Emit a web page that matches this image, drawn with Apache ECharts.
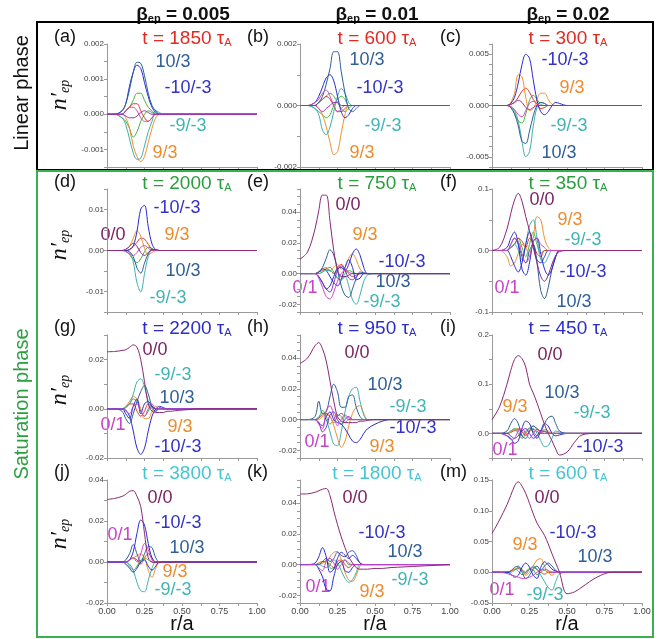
<!DOCTYPE html>
<html><head><meta charset="utf-8">
<script src="https://cdn.jsdelivr.net/npm/echarts@6/dist/echarts.min.js"></script>
<style>html,body{margin:0;padding:0;background:#fff}#c{width:667px;height:639px}</style>
</head><body><div id="c"></div>
<script>
// ---------- data ----------
const R = [0,0.05,0.1,0.125,0.15,0.175,0.2,0.225,0.25,0.275,0.3,0.325,0.35,0.375,0.4,0.425,0.45,0.5,0.55,0.6,0.7,0.8,1.0];
const xTickLabels = ['0.00','0.25','0.50','0.75','1.00'];
const times = ['1850','600','300','2000','750','350','2200','950','450','3800','1800','600'];
const letters = ['(a)','(b)','(c)','(d)','(e)','(f)','(g)','(h)','(i)','(j)','(k)','(m)'];
const betas = ['0.005','0.01','0.02'];

// (a)
const A_103  = [0,0,0.0001,0.0003,0.0007,0.0012,0.00148,0.00145,0.0011,0.0006,0.00025,0.0001, 0,0,0,0,0,0, 0,0,0,0,0];
const A_m103 = [0,0,0.0001,0.0003,0.0008,0.0012,0.0014,0.0013,0.0009,0.0005,0.0002,0.00005, 0,0,0,0,0,0, 0,0,0,0,0];
const A_m93  = [0,0,-0.0001,-0.0003,-0.0007,-0.0011,-0.00128,-0.00125,-0.0009,-0.0005,-0.0002,0.0001, 0.00005,0,0,0,0,0, 0,0,0,0,0];
const A_93   = [0,0,0,-0.0001,-0.0004,-0.0009,-0.0012,-0.00135,-0.0012,-0.0008,-0.0004,-0.0001, 0,0,0,0,0,0, 0,0,0,0,0];
const A_g1   = [0,0,0,0.0001,0.0002,0.0004,0.0006,0.0006,0.0004,0.0002,0.0001,0, 0,0,0,0,0,0, 0,0,0,0,0];
const A_g2   = [0,0,-0.0001,-0.0002,-0.0004,-0.00065,-0.0005,-0.0002,0,0.0001,0.00005,0, 0,0,0,0,0,0, 0,0,0,0,0];
const A_red  = [0,0,0,0.0001,0.0002,0.0003,0.0003,0.0001,-0.0001,-0.0002,-0.0001,0, 0,0,0,0,0,0, 0,0,0,0,0];
const A_mag  = [0,0,0,0.0001,0.0002,0.0002,0.0001,-0.0001,-0.0002,-0.0002,-0.0001,0, 0,0,0,0,0,0, 0,0,0,0,0];
const A_pur  = [0,0,0,-0.00005,-0.0001,-0.0001,-0.00005,0.00005,0.0001,0.00005,0,0, 0,0,0,0,0,0, 0,0,0,0,0];
// (b)
const B_103  = [0,0,0,0.0001,0.0003,0.0007,0.0012,0.00175,0.00175,0.0011,0.0004,-0.0001, -0.0002,-0.0001,0,0,0,0, 0,0,0,0,0];
const B_m103 = [0,0,0.0001,0.0003,0.0006,0.0009,0.001,0.0008,0.0003,-0.0002,-0.0004,-0.0003, -0.0001,0,0,0,0,0, 0,0,0,0,0];
const B_m93  = [0,0,-0.0001,-0.0003,-0.0008,-0.00095,-0.0007,-0.0002,0.0003,0.00055,0.0004,0.0001, 0,0,0,0,0,0, 0,0,0,0,0];
const B_93   = [0,0,0,-0.0001,-0.0003,-0.0007,-0.0012,-0.0016,-0.0015,-0.0009,-0.0003,0, 0,0,0,0,0,0, 0,0,0,0,0];
const B_g1   = [0,0,0,0.0001,0.0002,0.0003,0.0004,0.0003,0.0001,-0.0001,-0.0002,-0.0001, 0,0,0,0,0,0, 0,0,0,0,0];
const B_g2   = [0,0,-0.0001,-0.0002,-0.0003,-0.0004,-0.0003,0,0.0002,0.0003,0.0002,0, 0,0,0,0,0,0, 0,0,0,0,0];
const B_red  = [0,0,0,0.0001,0.0002,0.0003,0.0002,0,-0.0002,-0.0002,-0.0001,0, 0,0,0,0,0,0, 0,0,0,0,0];
const B_mag  = [0,0,0.0001,0.0002,0.0004,0.0005,0.0003,0,-0.0002,-0.0001,0,0, 0,0,0,0,0,0, 0,0,0,0,0];
const B_pur  = [0,0,0,-0.0001,-0.0002,-0.0001,0,0.0001,0.0001,0,0,0, 0,0,0,0,0,0, 0,0,0,0,0];
// (c)
const C_m103 = [0,0,0,0.0002,0.0008,0.0022,0.004,0.005,0.0046,0.0025,0.0005,-0.0006, -0.0009,-0.0006,0,0.0003,0.0002,0, 0,0,0,0,0];
const C_103  = [0,0,0,-0.0002,-0.0008,-0.002,-0.0035,-0.0037,-0.0025,-0.001,0,0.0003, 0.0002,0,0,0,0,0, 0,0,0,0,0];
const C_m93  = [0,0,0,-0.0001,-0.0005,-0.0015,-0.0035,-0.005,-0.0045,-0.002,-0.0002,0.0003, 0.0002,0,0,0,0,0, 0,0,0,0,0];
const C_93   = [0,0,0,0.0003,0.0012,0.003,0.0028,0.0008,-0.0005,-0.0003,0.0006,0.0012, 0.0012,0.0006,0.0001,0,0,0, 0,0,0,0,0];
const C_red  = [0,0,0,0.0001,0.0003,0.0008,0.0014,0.0017,0.0013,0.0006,0.0001,-0.0003, -0.0002,0,0,0,0,0, 0,0,0,0,0];
const C_g    = [0,0,0,-0.0002,-0.0008,-0.0015,-0.0017,-0.0008,0.0005,0.001,0.0006,0.0001, 0,0,0,0,0,0, 0,0,0,0,0];
const C_mag  = [0,0,0,-0.0001,-0.0004,-0.0009,-0.0011,-0.0005,0.0002,0.0004,0.0002,0, 0,0,0,0,0,0, 0,0,0,0,0];
const C_pur  = [0,0,0,0.0001,0.0003,0.0005,0.0003,-0.0002,-0.0004,-0.0002,0,0, 0,0,0,0,0,0, 0,0,0,0,0];
// (d)
const D_m103 = [0,0,0,0,0.0002,0.0011,0.0047,0.0101,0.011,0.0058,0.0016,0.0002, 0,0,0,0,0,0, 0,0,0,0,0];
const D_103  = [0,0,0,0,-0.0003,-0.0015,-0.0043,-0.0055,-0.0031,-0.0008,0.0002,0.0002, 0,0,0,0,0,0, 0,0,0,0,0];
const D_m93  = [0,0,0,0,-0.0005,-0.0028,-0.0079,-0.0101,-0.0057,-0.0015,0,0, 0,0,0,0,0,0, 0,0,0,0,0];
const D_93   = [0,0,0,0.0003,0.001,0.003,0.0048,0.0035,0.0005,-0.001,-0.0005,0, 0,0,0,0,0,0, 0,0,0,0,0];
const D_red  = [0,0,0,0,0.0003,0.001,0.002,0.003,0.0028,0.0015,0.0003,0, 0,0,0,0,0,0, 0,0,0,0,0];
const D_g    = [0,0,0,-0.0002,-0.001,-0.0022,-0.003,-0.002,-0.0003,0.0008,0.0005,0, 0,0,0,0,0,0, 0,0,0,0,0];
const D_00   = [0,0,0,0.0003,0.001,0.0018,0.001,-0.0005,-0.0012,-0.0005,0.0003,0.0002, 0,0,0,0,0,0, 0,0,0,0,0];
const D_mag  = [0,0,0,-0.0002,-0.0008,-0.0012,-0.0005,0.0008,0.0012,0.0006,0,0, 0,0,0,0,0,0, 0,0,0,0,0];
// (e)
const E_00   = [0.0094,0.014,0.029,0.041,0.051,0.051,0.034,0.015,0.003,-0.002,-0.002,-0.001, 0,0,0,0,0,0, 0,0,0,0,0];
const E_103  = [0,0,0,0.001,0.004,0.01,0.0155,0.012,0.002,-0.008,-0.014,-0.0155, -0.01,-0.003,0.001,0.0005,0,0, 0,0,0,0,0];
const E_m103 = [0,0,0,-0.002,-0.006,-0.01,-0.008,-0.002,0.003,0.004,0.002,0.006, 0.013,0.016,0.012,0.004,0,0, 0,0,0,0,0];
const E_m93  = [0,0,0,0,0.001,0.002,0.002,0,-0.003,-0.004,-0.002,-0.008, -0.017,-0.02,-0.014,-0.005,-0.001,0, 0,0,0,0,0];
const E_93   = [0,0,0,0.001,0.003,0.004,0.002,0.004,0.006,0.003,0.004,0.01, 0.013,0.009,0.003,0.0005,0,0, 0,0,0,0,0];
const E_01   = [0,0,0,-0.003,-0.009,-0.015,-0.0165,-0.012,-0.005,0,0.002,0.001, 0,0,0,0,0,0, 0,0,0,0,0];
const E_vio  = [0,0,0,-0.002,-0.006,-0.01,-0.012,-0.006,0.002,0.005,0.002,-0.003, -0.004,-0.002,0,0,0,0, 0,0,0,0,0];
const E_red  = [0,0,0,0.001,0.002,0.003,0.002,0,0.004,0.006,0.003,0, -0.002,-0.001,0,0,0,0, 0,0,0,0,0];
const E_g    = [0,0,0,0,0.001,0.003,0.004,0.001,-0.003,-0.004,0,0.002, 0.001,0,0,0,0,0, 0,0,0,0,0];
const E_b3   = [0,0,0,0.001,0.003,0.002,-0.002,-0.006,-0.008,-0.004,0.004,0.009, 0.004,-0.004,-0.003,0,0,0, 0,0,0,0,0];
// (f)
const F_00   = [0,0.005,0.035,0.06,0.082,0.093,0.08,0.055,0.032,0.005,-0.02,-0.042, -0.05,-0.04,-0.022,-0.008,-0.002,0, 0,0,0,0,0];
const F_93   = [0,0,-0.01,-0.025,-0.02,-0.005,0.01,0.005,-0.01,0.02,0.055,0.05, 0.02,0.005,0,0,0,0, 0,0,0,0,0];
const F_m93  = [0,0,0,0.005,0.01,0,-0.015,0.01,0.04,0.05,0.02,-0.015, -0.02,-0.01,0,0,0,0, 0,0,0,0,0];
const F_103  = [0,0,0,0.01,0.02,0.01,-0.01,-0.02,0,0.01,-0.02,-0.065, -0.078,-0.06,-0.03,-0.01,0,0, 0,0,0,0,0];
const F_m103 = [0,0,0.005,0.02,0.03,0.01,-0.03,-0.04,-0.02,0.015,0.02,-0.005, -0.03,-0.04,-0.03,-0.01,0,0, 0,0,0,0,0];
const F_mag  = [0,0,0,0.01,0.02,0.015,-0.005,-0.02,-0.01,0.015,0.02,0.01, 0.005,0,0,0,0,0, 0,0,0,0,0];
const F_b3   = [0,0,0,-0.01,-0.025,-0.035,-0.02,0.01,0.03,0.01,-0.015,-0.02, -0.01,0,0,0,0,0, 0,0,0,0,0];
const F_g    = [0,0,0,0.005,0.01,0.02,0.005,-0.01,0.01,0.03,0.01,-0.005, 0,0,0,0,0,0, 0,0,0,0,0];
const F_red  = [0,0,0,0.005,0.01,0.02,0.015,0.005,0.02,0.01,-0.005,-0.01, 0,0,0,0,0,0, 0,0,0,0,0];
// (g)
const G_00   = [0.0232,0.0233,0.0237,0.024,0.025,0.026,0.025,0.02,0.011,0.002,-0.001,-0.0015, -0.0015,-0.0015,-0.001,-0.001,-0.0008,-0.0005, -0.0003,0,0,0,0];
const G_m93  = [0,0,0,0.0005,0.002,0.006,0.011,0.0122,0.009,0.003,0,-0.001, 0,0,0,0,0,0, 0,0,0,0,0];
const G_103  = [0,0,-0.001,-0.004,-0.006,-0.002,0.003,0.007,0.0095,0.006,0.001,-0.001, 0.0005,0,0,0,0,0, 0,0,0,0,0];
const G_m103 = [0,0,0,-0.0005,-0.003,-0.009,-0.016,-0.0185,-0.016,-0.009,-0.003,0, 0.001,0.0005,0,0,0,0, 0,0,0,0,0];
const G_93   = [0,0,0,0.001,0.003,0.005,0.004,0,-0.004,-0.004,-0.001,0.001, 0,0,0,0,0,0, 0,0,0,0,0];
const G_g    = [0,0,0,0.001,0.002,0.004,0.003,-0.001,-0.003,-0.001,0.001,0, 0,0,0,0,0,0, 0,0,0,0,0];
const G_red  = [0,0,0,0.0005,0.002,0.002,-0.001,-0.003,-0.001,0.002,0.001,0, 0,0,0,0,0,0, 0,0,0,0,0];
const G_mag  = [0,0,0,-0.001,-0.002,0.001,0.002,-0.001,-0.003,0,0.002,0, 0,0,0,0,0,0, 0,0,0,0,0];
const G_b3   = [0,0,0,-0.002,-0.004,0.001,0.004,-0.002,0.002,0.003,0.001,0, 0,0,0,0,0,0, 0,0,0,0,0];
// (h)
const H_00   = [0.0365,0.04,0.048,0.05,0.046,0.038,0.025,0.012,0.002,-0.001,-0.002,-0.002, -0.002,-0.002,-0.001,-0.001,-0.0005,0, 0,0,0,0,0];
const H_103  = [0,0,0.002,0.012,0.004,0.005,0.015,0.023,0.018,0.008,0.008,0.015, 0.016,0.008,0.002,0,0,0, 0,0,0,0,0];
const H_m93  = [0,0,0,0.002,0.004,0,-0.008,-0.016,-0.017,-0.008,0.005,0.015, 0.02,0.021,0.012,0.003,0,0, 0,0,0,0,0];
const H_93   = [0,0,0,0,0.002,0.003,0.002,-0.004,-0.012,-0.018,-0.014,-0.004, 0.004,0.008,0.009,0.004,0,0, 0,0,0,0,0];
const H_m103 = [0,0,0,-0.002,-0.004,0.002,0.005,0,-0.002,-0.003,-0.006,-0.01, -0.014,-0.015,-0.013,-0.009,-0.006,-0.003, -0.001,0,0,0,0];
const H_01   = [0,0,0,-0.003,-0.006,0.006,0.009,0.003,-0.004,0,0.003,0.001, 0,0,0,0,0,0, 0,0,0,0,0];
const H_vio  = [0,0,0,-0.002,-0.008,-0.005,0.003,0.005,0,-0.003,0,0.002, 0,0,0,0,0,0, 0,0,0,0,0];
const H_red  = [0,0,0,0.001,0.003,0.004,0.002,-0.002,0.002,0.004,0.002,0, 0,0,0,0,0,0, 0,0,0,0,0];
const H_g    = [0,0,0,0.001,0.006,0.002,-0.003,0,0.003,0.002,-0.002,0, 0,0,0,0,0,0, 0,0,0,0,0];
// (i)
const I_00   = [0.028,0.054,0.1,0.128,0.15,0.158,0.152,0.135,0.1,0.082,0.062,0.04, 0.018,0,-0.015,-0.032,-0.044,-0.038, -0.018,-0.003,0,0,0];
const I_103  = [0,0,0.005,0.02,0.03,0.02,-0.005,-0.01,0.005,0.015,0.01,0.005, 0.02,0.032,0.035,0.02,0.005,0, 0,0,0,0,0];
const I_m93  = [0,0,0,0.005,0.01,0.005,-0.005,0.005,0.01,0.01,0,-0.015, -0.027,-0.025,-0.01,0.005,0.003,0, 0,0,0,0,0];
const I_93   = [0,0,0,0.003,0.008,0.01,0.005,0,0.012,0.015,0.008,0.003, 0.008,0.005,0,0,0,0, 0,0,0,0,0];
const I_m103 = [0,0,-0.005,-0.01,-0.02,-0.015,0.01,0.025,0.02,0,-0.01,0.005, 0.02,0.015,0,-0.005,-0.003,0, 0,0,0,0,0];
const I_01   = [0,0,-0.005,-0.012,-0.01,0.005,0.01,0,-0.01,0,0.008,0.003, 0,0,0,0,0,0, 0,0,0,0,0];
const I_g    = [0,0,0,0.005,0.008,0,-0.01,0,0.01,0.005,-0.005,0, 0.005,0.002,0,0,0,0, 0,0,0,0,0];
const I_red  = [0,0,0,0.002,0.006,0.008,0.003,-0.004,0.004,0.008,0.004,0, 0,0,0,0,0,0, 0,0,0,0,0];
const I_vio  = [0,0,0,-0.005,-0.01,-0.005,0.005,0.01,0,-0.01,-0.005,0.005, 0.004,0,0,0,0,0, 0,0,0,0,0];
// (j)
const J_00   = [0.0305,0.031,0.032,0.033,0.0345,0.0348,0.032,0.027,0.014,0.002,0,-0.0003, -0.0003,0,0,0,0,0, 0,0,0,0,0];
const J_m103 = [0,0,0,0,0.001,0.005,0.014,0.0205,0.018,0.009,0.002,0, 0,0,0,0,0,0, 0,0,0,0,0];
const J_m93  = [0,0,0,0,-0.001,-0.004,-0.01,-0.014,-0.0145,-0.009,-0.003,0, 0,0,0,0,0,0, 0,0,0,0,0];
const J_103  = [0,0,0,0.001,0.004,0.0085,0.004,0,0.004,0.0075,0.007,0.002, 0,0,0,0,0,0, 0,0,0,0,0];
const J_01   = [0,0,0,0,0.001,0.002,0,0.004,0.009,0.006,0.001,0, 0,0,0,0,0,0, 0,0,0,0,0];
const J_93   = [0,0,0,0,0.001,0.002,0.003,0.004,0.002,-0.004,-0.0075,-0.003, 0,0,0,0,0,0, 0,0,0,0,0];
const J_b2   = [0,0,0,-0.001,-0.003,-0.005,-0.003,0,0.001,-0.002,-0.004,-0.002, 0,0,0,0,0,0, 0,0,0,0,0];
const J_g    = [0,0,0,0,-0.002,-0.004,-0.002,0.001,0.002,0.001,0,0, 0,0,0,0,0,0, 0,0,0,0,0];
const J_red  = [0,0,0,0,0.001,0.002,0.001,-0.001,0.002,0.004,0.002,0, 0,0,0,0,0,0, 0,0,0,0,0];
// (k)
const K_00   = [0.0459,0.046,0.047,0.048,0.049,0.0495,0.0448,0.035,0.026,0.018,0.011,0.005, 0.001,-0.002,-0.003,-0.003,-0.003,-0.0025, -0.0025,-0.002,-0.0015,-0.001,0];
const K_m103 = [0,0,0.001,0.005,0.011,0.005,-0.005,-0.003,0.004,0.008,0.006,0.004, 0.006,0.004,0.001,0,0,0, 0,0,0,0,0];
const K_b2   = [0,0,0,-0.003,-0.008,-0.016,-0.017,-0.008,0,0.002,-0.004,-0.005, -0.002,0,0,0,0,0, 0,0,0,0,0];
const K_103  = [0,0,0,0,0.002,0.004,0.002,0.004,0.008,0.006,0.005,0.008, 0.009,0.006,0.001,0,0,0, 0,0,0,0,0];
const K_93   = [0,0,0,0,0.001,0.002,0.005,0.008,0.0085,0.003,-0.005,-0.01, -0.011,-0.007,-0.001,0,0,0, 0,0,0,0,0];
const K_m93  = [0,0,0,0,-0.001,-0.002,0,0.003,0.001,-0.004,-0.009,-0.0115, -0.01,-0.005,0,0,0,0, 0,0,0,0,0];
const K_01   = [0,0,0,-0.002,-0.004,0.002,0.004,0.001,-0.003,0,0.003,0.001, 0,0,0,0,0,0, 0,0,0,0,0];
const K_red  = [0,0,0,0.001,0.002,0.002,0,-0.002,0.002,0.003,0,-0.002, 0,0,0,0,0,0, 0,0,0,0,0];
const K_g    = [0,0,0,0,0.001,0.003,-0.002,-0.003,0,0.002,0.003,0, 0,0,0,0,0,0, 0,0,0,0,0];
// (m)
const M_00   = [0.063,0.085,0.11,0.125,0.14,0.147,0.14,0.128,0.112,0.095,0.08,0.07, 0.06,0.046,0.03,0.015,0,-0.035, -0.032,-0.024,-0.008,0,0];
const M_93   = [0,0,0,0.002,0.005,0.008,0.003,-0.005,0,0.01,0.02,0.022, 0.01,0,-0.005,0,0,0, 0,0,0,0,0];
const M_m93  = [0,0,0,0,0.003,0.008,0.005,-0.003,0.005,0.01,0.005,-0.005, -0.015,-0.025,-0.029,-0.015,-0.003,0, 0,0,0,0,0];
const M_103  = [0,0,0,0.002,0.008,0.01,0,-0.01,-0.005,0.005,0.01,0.003, 0.01,0.015,0.01,0.003,0,0, 0,0,0,0,0];
const M_m103 = [0,0,0,-0.003,-0.008,-0.005,0.008,0.015,0.008,-0.005,-0.01,0.008, 0.017,0.012,0.005,0.002,0,0, 0,0,0,0,0];
const M_01   = [0,0,-0.002,-0.004,-0.006,-0.008,-0.01,-0.01,-0.008,-0.005,0,0.003, 0.005,0.003,0,0,0,0, 0,0,0,0,0];
const M_red  = [0,0,0,0.002,0.004,0.006,0.003,0,0.005,0.008,0.004,0, -0.003,0,0,0,0,0, 0,0,0,0,0];
const M_g    = [0,0,0,0.002,0.005,0.002,-0.004,0,0.006,0.004,-0.004,0, 0.003,0,0,0,0,0, 0,0,0,0,0];

// ---------- styling / layout ----------
const LC = {c103:'#2c5d9a', cm103:'#2a2ad2', cm93:'#3fb0ae', c93:'#f0922e', c00:'#8a2878', c01:'#c846c8',
            green:'#43b53a', red:'#e2342e', vio:'#7030c0', pur:'#9a30b0', mag:'#d246b4'};
const TC = {t103:'#2f5f98', tm103:'#3232c8', tm93:'#40b4b4', t93:'#ec8c2c', t00:'#7a2466', t01:'#c544c8'};
const rowColors = ['#e02a22','#2a9d3e','#2c2cc8','#45c4d2'];
const FF = '"Liberation Sans", Arial, sans-serif';

const curves = [
  [[A_g2,'green'],[A_g1,'green'],[A_red,'red'],[A_93,'c93'],[A_m93,'cm93'],[A_m103,'cm103'],[A_103,'c103'],[A_mag,'mag'],[A_pur,'pur']],
  [[B_g2,'green'],[B_g1,'green'],[B_red,'red'],[B_93,'c93'],[B_m93,'cm93'],[B_m103,'cm103'],[B_103,'c103'],[B_mag,'mag'],[B_pur,'pur']],
  [[C_g,'green'],[C_red,'red'],[C_93,'c93'],[C_m93,'cm93'],[C_103,'c103'],[C_m103,'cm103'],[C_mag,'mag'],[C_pur,'pur']],
  [[D_g,'green'],[D_red,'red'],[D_93,'c93'],[D_m93,'cm93'],[D_103,'c103'],[D_m103,'cm103'],[D_mag,'mag'],[D_00,'c00']],
  [[E_g,'green'],[E_red,'red'],[E_93,'c93'],[E_b3,'cm103'],[E_m93,'cm93'],[E_103,'c103'],[E_m103,'cm103'],[E_vio,'vio'],[E_01,'c01'],[E_00,'c00']],
  [[F_g,'green'],[F_red,'red'],[F_93,'c93'],[F_m93,'cm93'],[F_b3,'cm103'],[F_103,'c103'],[F_m103,'cm103'],[F_mag,'c01'],[F_00,'c00']],
  [[G_g,'green'],[G_red,'red'],[G_93,'c93'],[G_b3,'cm103'],[G_m93,'cm93'],[G_103,'c103'],[G_m103,'cm103'],[G_mag,'c01'],[G_00,'c00']],
  [[H_g,'green'],[H_red,'red'],[H_93,'c93'],[H_m93,'cm93'],[H_103,'c103'],[H_m103,'cm103'],[H_vio,'vio'],[H_01,'c01'],[H_00,'c00']],
  [[I_g,'green'],[I_red,'red'],[I_93,'c93'],[I_m93,'cm93'],[I_103,'c103'],[I_m103,'cm103'],[I_vio,'vio'],[I_01,'c01'],[I_00,'c00']],
  [[J_g,'green'],[J_red,'red'],[J_93,'c93'],[J_m93,'cm93'],[J_b2,'cm103'],[J_103,'c103'],[J_m103,'cm103'],[J_01,'c01'],[J_00,'c00']],
  [[K_g,'green'],[K_red,'red'],[K_93,'c93'],[K_m93,'cm93'],[K_b2,'cm103'],[K_103,'c103'],[K_m103,'cm103'],[K_01,'c01'],[K_00,'c00']],
  [[M_g,'green'],[M_red,'red'],[M_93,'c93'],[M_m93,'cm93'],[M_103,'c103'],[M_m103,'cm103'],[M_01,'c01'],[M_00,'c00']]
];

// y-axis specs: [min, max, tick interval, label step, decimals]
const yAxisSpec = [
  [-0.0015,0.002,0.0005,0.001,3],[-0.002,0.002,0.001,0.002,3],[-0.006,0.006,0.001,0.005,3],
  [-0.015,0.015,0.005,0.01,2],[-0.025,0.055,0.005,0.02,2],[-0.1,0.1,0.05,0.1,1],
  [-0.02,0.03,0.01,0.02,2],[-0.025,0.055,0.005,0.02,2],[-0.05,0.2,0.05,0.1,1],
  [-0.02,0.04,0.01,0.02,2],[-0.025,0.055,0.005,0.02,2],[-0.05,0.15,0.05,0.05,2]
];

const curveLabels = [
  [['10/3','t103',173,62],['-10/-3','tm103',188,88],['-9/-3','tm93',188,126],['9/3','t93',165,153]],
  [['10/3','t103',367,60],['-10/-3','tm103',380,88],['-9/-3','tm93',383,126],['9/3','t93',362,153]],
  [['-10/-3','tm103',565,60],['9/3','t93',572,88],['-9/-3','tm93',569,126],['10/3','t103',559,153]],
  [['-10/-3','tm103',177,208],['0/0','t00',113,235],['9/3','t93',177,235],['10/3','t103',183,271],['-9/-3','tm93',168,298]],
  [['0/0','t00',348,205],['9/3','t93',365,235],['-10/-3','tm103',402,262],['10/3','t103',393,282],['-9/-3','tm93',382,302],['0/1','t01',305,288]],
  [['0/0','t00',542,200],['9/3','t93',570,220],['-9/-3','tm93',583,240],['-10/-3','tm103',583,272],['0/1','t01',507,288],['10/3','t103',574,302]],
  [['0/0','t00',155,350],['-9/-3','tm93',173,375],['10/3','t103',177,398],['0/1','t01',113,425],['9/3','t93',180,427],['-10/-3','tm103',178,447]],
  [['0/0','t00',357,353],['10/3','t103',385,385],['-9/-3','tm93',408,407],['-10/-3','tm103',413,428],['9/3','t93',382,447],['0/1','t01',317,442]],
  [['0/0','t00',550,355],['10/3','t103',562,393],['9/3','t93',515,407],['-9/-3','tm93',592,413],['-10/-3','tm103',600,447],['0/1','t01',505,450]],
  [['0/0','t00',160,498],['-10/-3','tm103',178,523],['0/1','t01',120,535],['10/3','t103',187,548],['9/3','t93',175,572],['-9/-3','tm93',173,590]],
  [['0/0','t00',355,498],['-10/-3','tm103',382,533],['10/3','t103',405,552],['-9/-3','tm93',410,580],['0/1','t01',318,587],['9/3','t93',372,592]],
  [['0/0','t00',547,498],['-10/-3','tm103',573,533],['9/3','t93',525,545],['10/3','t103',595,557],['0/1','t01',502,590],['-9/-3','tm93',545,595]]
];

const colLeft = [107,300,492], rowTop = [44,189,335,480], PW = 150, PH = 123;
const titleX = [187,377,568], titleY = [37,182,327,472], letterX = [54,247,440];

function fmtY(step, dec){
  return function(v){
    const k = v/step;
    if (Math.abs(k-Math.round(k)) > 1e-6) return '';
    if (Math.abs(v) < 1e-12) v = 0;
    return v.toFixed(dec);
  };
}
function fmtX(v){
  const k = v/0.25;
  if (Math.abs(k-Math.round(k)) > 1e-6) return '';
  return xTickLabels[Math.round(k)];
}

const grid = [], xAxis = [], yAxis = [], series = [], graphic = [];
const axisCol = '#9a9a9a';
for (let p=0; p<12; p++){
  const row = Math.floor(p/3), col = p%3;
  grid.push({left:colLeft[col], top:rowTop[row], width:PW, height:PH, containLabel:false, outerBoundsMode:'none'});
  xAxis.push({gridIndex:p, type:'value', min:0, max:1, interval:0.125,
    axisLine:{show:true, onZero:false, lineStyle:{color:axisCol, width:1}},
    axisTick:{show:true, length:3, inside:false, lineStyle:{color:axisCol}},
    axisLabel:{show: row===3, formatter: fmtX, fontSize:9, color:'#444', fontFamily:FF, margin:4, showMinLabel:true, showMaxLabel:true},
    splitLine:{show:false}});
  const s = yAxisSpec[p];
  yAxis.push({gridIndex:p, type:'value', min:s[0], max:s[1], interval:s[2],
    axisLine:{show:true, onZero:false, lineStyle:{color:axisCol, width:1}},
    axisTick:{show:true, length:3, lineStyle:{color:axisCol}},
    axisLabel:{formatter: fmtY(s[3], s[4]), fontSize:8, color:'#444', fontFamily:FF, margin:3, showMinLabel:true, showMaxLabel:true},
    splitLine:{show:false}});
  curves[p].forEach(function(c, j){
    series.push({type:'line', xAxisIndex:p, yAxisIndex:p, smooth:0.35, symbol:'none', silent:true,
      lineStyle:{width:1, color:LC[c[1]]}, z:2+j,
      data: R.map(function(r,i){ return [r, c[0][i]]; })});
  });
  // title
  graphic.push({type:'text', x:titleX[col], y:titleY[row], silent:true,
    style:{text:'{t|t = '+times[p]+' τ}{s|A}', align:'center', verticalAlign:'middle', textAlign:'center', textVerticalAlign:'middle',
      rich:{t:{fontSize:19, fontFamily:FF, fill:rowColors[row], verticalAlign:'bottom', lineHeight:22},
            s:{fontSize:11, fontFamily:FF, fill:rowColors[row], verticalAlign:'bottom', lineHeight:18}}}});
  graphic.push({type:'text', x:letterX[col], y:titleY[row], silent:true,
    style:{text:letters[p], font:'18px '+FF, fill:'#111', align:'left', verticalAlign:'middle', textAlign:'left', textVerticalAlign:'middle'}});
  curveLabels[p].forEach(function(L){
    graphic.push({type:'text', x:L[2], y:L[3], silent:true,
      style:{text:L[0], font:'18px '+FF, fill:TC[L[1]], align:'center', verticalAlign:'middle', textAlign:'center', textVerticalAlign:'middle'}});
  });
}
// column headers
const headerX = [183,377,568];
betas.forEach(function(b, c){
  graphic.push({type:'text', x:headerX[c], y:13, silent:true,
    style:{text:'{b|β}{s|ep}{b| = '+b+'}', align:'center', verticalAlign:'middle', textAlign:'center', textVerticalAlign:'middle',
      rich:{b:{fontSize:19, fontWeight:'bold', fontFamily:FF, fill:'#111', verticalAlign:'bottom', lineHeight:22},
            s:{fontSize:11, fontWeight:'bold', fontFamily:FF, fill:'#111', verticalAlign:'bottom', lineHeight:17}}}});
});
// y-axis names
const yNameY = [95,245,390,534];
yNameY.forEach(function(yy){
  graphic.push({type:'text', x:59, y:yy, rotation:Math.PI/2, silent:true,
    style:{text:'{n|n′}{s|ep}', align:'center', verticalAlign:'middle', textAlign:'center', textVerticalAlign:'middle',
      rich:{n:{fontSize:24, fontStyle:'italic', fontFamily:'"Liberation Serif", "DejaVu Serif", serif', fill:'#111', verticalAlign:'bottom', lineHeight:26},
            s:{fontSize:14, fontStyle:'italic', fontFamily:'"Liberation Serif", "DejaVu Serif", serif', fill:'#111', verticalAlign:'bottom', lineHeight:20}}}});
});
// x-axis names
for (let c=0;c<3;c++){
  graphic.push({type:'text', x:colLeft[c]+PW/2, y:624, silent:true,
    style:{text:'r/a', font:'20px '+FF, fill:'#111', align:'center', verticalAlign:'middle', textAlign:'center', textVerticalAlign:'middle'}});
}
// phase labels
graphic.push({type:'text', x:22, y:93, rotation:Math.PI/2, silent:true,
  style:{text:'Linear phase', font:'20px '+FF, fill:'#111', align:'center', verticalAlign:'middle', textAlign:'center', textVerticalAlign:'middle'}});
graphic.push({type:'text', x:22, y:404, rotation:Math.PI/2, silent:true,
  style:{text:'Saturation phase', font:'20px '+FF, fill:'#2aa040', align:'center', verticalAlign:'middle', textAlign:'center', textVerticalAlign:'middle'}});
// boxes
graphic.push({type:'rect', silent:true, shape:{x:37, y:22, width:616, height:148}, style:{fill:'none', stroke:'#000', lineWidth:2}, z:100});
graphic.push({type:'rect', silent:true, shape:{x:37, y:171, width:616, height:466}, style:{fill:'none', stroke:'#3cb050', lineWidth:2}, z:100});

const chart = echarts.init(document.getElementById('c'), null, {renderer:'canvas'});
chart.setOption({animation:false, backgroundColor:'#fff', grid:grid, xAxis:xAxis, yAxis:yAxis, series:series, graphic:{elements:graphic}});
</script>
</body></html>
